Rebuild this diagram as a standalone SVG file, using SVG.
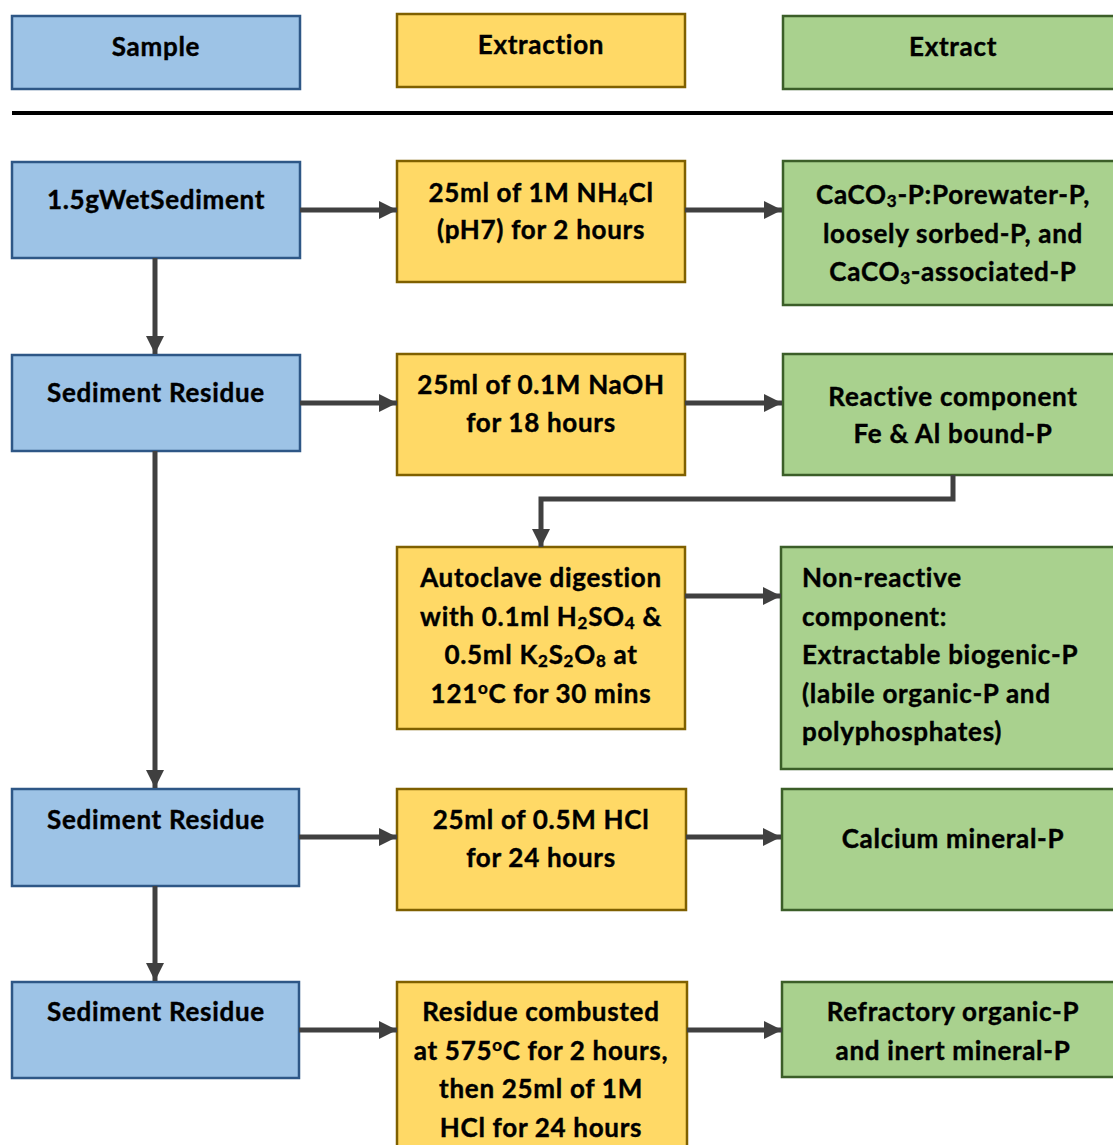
<svg xmlns="http://www.w3.org/2000/svg" width="1113" height="1145" viewBox="0 0 1113 1145">
<style>
.t{font-family:Lato,"Open Sans","Liberation Sans",sans-serif;font-weight:700;font-size:26px;letter-spacing:0.7px;fill:#000;stroke:#000;stroke-width:0.4;text-anchor:middle}
.l{text-anchor:start}
.b{fill:#9DC3E6;stroke:#2E5786;stroke-width:2.5}
.y{fill:#FFD966;stroke:#7F6000;stroke-width:2.5}
.g{fill:#A9D18E;stroke:#3B5E28;stroke-width:2.5}
.c{fill:none;stroke:#404040;stroke-width:5}
.s{font-size:17px}
</style>
<defs>
<marker id="ah" markerUnits="userSpaceOnUse" markerWidth="20" markerHeight="20" viewBox="0 0 20 20" refX="18" refY="10" orient="auto">
<path d="M0,1 L18,10 L0,19 Z" fill="#404040"/>
</marker>
</defs>
<rect width="1113" height="1145" fill="#fff"/>
<g id="header-sample"><rect class="b" x="12" y="16" width="288" height="73"/><text class="t" x="156" y="56">Sample</text></g>
<g id="header-extraction"><rect class="y" x="397" y="14" width="288" height="73"/><text class="t" x="541" y="54">Extraction</text></g>
<g id="header-extract"><rect class="g" x="783" y="16" width="332" height="73"/><text class="t" x="953" y="56">Extract</text></g>
<line x1="12" y1="113" x2="1113" y2="113" stroke="#000" stroke-width="4"/>

<g id="n1"><rect class="b" x="12" y="162" width="288" height="96"/><text class="t" x="156" y="209">1.5gWetSediment</text></g>
<g id="n2"><rect class="y" x="397" y="161" width="288" height="121"/>
<text class="t" x="541" y="202">25ml of 1M NH<tspan class="s" dy="3">4</tspan><tspan dy="-3">Cl</tspan></text>
<text class="t" x="541" y="239">(pH7) for 2 hours</text></g>
<g id="n3"><rect class="g" x="783" y="161" width="332" height="144"/>
<text class="t" x="953" y="204">CaCO<tspan class="s" dy="3">3</tspan><tspan dy="-3">-P:Porewater-P,</tspan></text>
<text class="t" x="953" y="243">loosely sorbed-P, and</text>
<text class="t" x="953" y="281">CaCO<tspan class="s" dy="3">3</tspan><tspan dy="-3">-associated-P</tspan></text></g>

<g id="n4"><rect class="b" x="12" y="355" width="288" height="96"/><text class="t" x="156" y="402">Sediment Residue</text></g>
<g id="n5"><rect class="y" x="397" y="354" width="288" height="121"/>
<text class="t" x="541" y="394">25ml of 0.1M NaOH</text>
<text class="t" x="541" y="432">for 18 hours</text></g>
<g id="n6"><rect class="g" x="783" y="354" width="332" height="121"/>
<text class="t" x="953" y="406">Reactive component</text>
<text class="t" x="953" y="443">Fe &amp; Al bound-P</text></g>

<g id="n7"><rect class="y" x="397" y="547" width="288" height="182"/>
<text class="t" x="541" y="587">Autoclave digestion</text>
<text class="t" x="541" y="626">with 0.1ml H<tspan class="s" dy="3">2</tspan><tspan dy="-3">SO</tspan><tspan class="s" dy="3">4</tspan><tspan dy="-3"> &amp;</tspan></text>
<text class="t" x="541" y="664">0.5ml K<tspan class="s" dy="3">2</tspan><tspan dy="-3">S</tspan><tspan class="s" dy="3">2</tspan><tspan dy="-3">O</tspan><tspan class="s" dy="3">8</tspan><tspan dy="-3"> at</tspan></text>
<text class="t" x="541" y="703">121<tspan class="s" dy="-9">o</tspan><tspan dy="9">C for 30 mins</tspan></text></g>
<g id="n8"><rect class="g" x="781" y="547" width="334" height="222"/>
<text class="t l" x="802" y="587">Non-reactive</text>
<text class="t l" x="802" y="626">component:</text>
<text class="t l" x="802" y="664">Extractable biogenic-P</text>
<text class="t l" x="802" y="703">(labile organic-P and</text>
<text class="t l" x="802" y="741">polyphosphates)</text></g>

<g id="n9"><rect class="b" x="12" y="789" width="287" height="97"/><text class="t" x="156" y="829">Sediment Residue</text></g>
<g id="n10"><rect class="y" x="397" y="789" width="289" height="121"/>
<text class="t" x="541" y="829">25ml of 0.5M HCl</text>
<text class="t" x="541" y="867">for 24 hours</text></g>
<g id="n11"><rect class="g" x="782" y="789" width="333" height="121"/>
<text class="t" x="953" y="848">Calcium mineral-P</text></g>

<g id="n12"><rect class="b" x="12" y="982" width="287" height="96"/><text class="t" x="156" y="1021">Sediment Residue</text></g>
<g id="n13"><rect class="y" x="397" y="982" width="290" height="170"/>
<text class="t" x="541" y="1021">Residue combusted</text>
<text class="t" x="541" y="1060">at 575<tspan class="s" dy="-9">o</tspan><tspan dy="9">C for 2 hours,</tspan></text>
<text class="t" x="541" y="1098">then 25ml of 1M</text>
<text class="t" x="541" y="1137">HCl for 24 hours</text></g>
<g id="n14"><rect class="g" x="782" y="982" width="333" height="95"/>
<text class="t" x="953" y="1021">Refractory organic-P</text>
<text class="t" x="953" y="1060">and inert mineral-P</text></g>

<g id="connectors">
<line class="c" x1="300" y1="210" x2="397" y2="210" marker-end="url(#ah)"/>
<line class="c" x1="685" y1="210" x2="782" y2="210" marker-end="url(#ah)"/>
<line class="c" x1="155" y1="258" x2="155" y2="354" marker-end="url(#ah)"/>
<line class="c" x1="300" y1="403" x2="397" y2="403" marker-end="url(#ah)"/>
<line class="c" x1="685" y1="403" x2="782" y2="403" marker-end="url(#ah)"/>
<polyline class="c" points="953,475 953,499 541,499 541,547" marker-end="url(#ah)"/>
<line class="c" x1="685" y1="596" x2="781" y2="596" marker-end="url(#ah)"/>
<line class="c" x1="155" y1="451" x2="155" y2="788" marker-end="url(#ah)"/>
<line class="c" x1="299" y1="837" x2="397" y2="837" marker-end="url(#ah)"/>
<line class="c" x1="686" y1="837" x2="781" y2="837" marker-end="url(#ah)"/>
<line class="c" x1="155" y1="886" x2="155" y2="981" marker-end="url(#ah)"/>
<line class="c" x1="299" y1="1030" x2="397" y2="1030" marker-end="url(#ah)"/>
<line class="c" x1="687" y1="1030" x2="782" y2="1030" marker-end="url(#ah)"/>
</g>
</svg>
